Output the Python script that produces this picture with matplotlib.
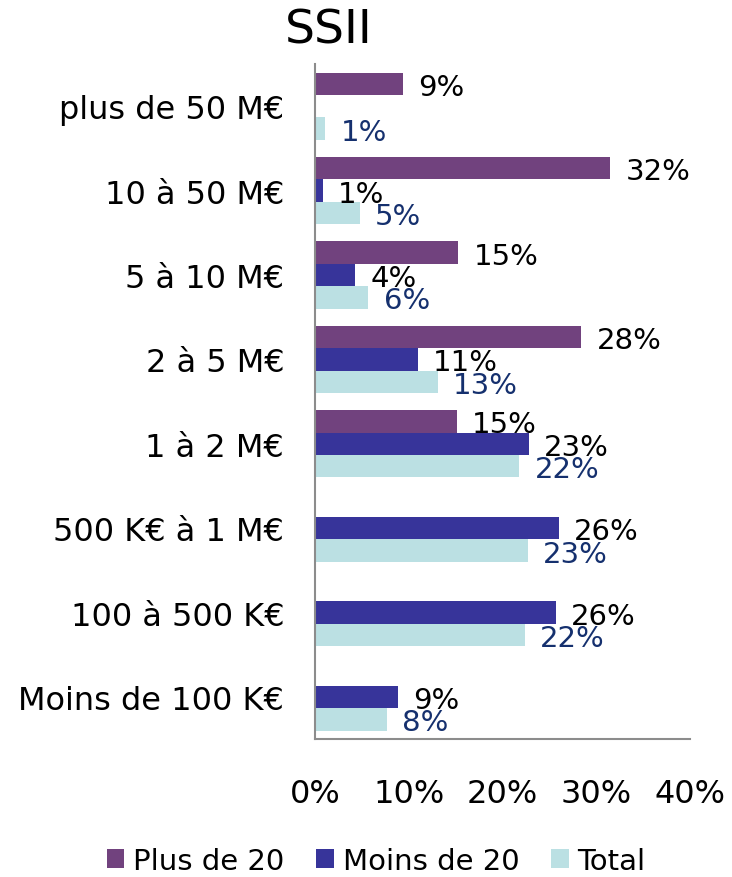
import numpy as np
import matplotlib
matplotlib.use("Agg")
import matplotlib.pyplot as plt

# categories listed bottom to top
categories = ["Moins de 100 K€", "100 à 500 K€", "500 K€ à 1 M€", "1 à 2 M€",
              "2 à 5 M€", "5 à 10 M€", "10 à 50 M€", "plus de 50 M€"]
plus_de_20 = [np.nan, np.nan, np.nan, 15.1, 28.4, 15.3, 31.5, 9.4]
moins_de_20 = [8.9, 25.7, 26.0, 22.8, 11.0, 4.3, 0.85, np.nan]
total = [7.7, 22.4, 22.7, 21.8, 13.1, 5.7, 4.8, 1.1]
plus_labels = ["", "", "", "15%", "28%", "15%", "32%", "9%"]
moins_labels = ["9%", "26%", "26%", "23%", "11%", "4%", "1%", ""]
total_labels = ["8%", "22%", "23%", "22%", "13%", "6%", "5%", "1%"]
xticks = [0, 10, 20, 30, 40]

plt.rcParams["font.family"] = ["DejaVu Sans"]

fig = plt.figure(figsize=(7.32, 8.78), dpi=100)
ax = fig.add_axes([0.430, 0.157, 0.513, 0.769])

y = np.arange(len(categories))
h = 0.265
series = [
    (plus_de_20, plus_labels, y + h, "#71427E", "black", "Plus de 20"),
    (moins_de_20, moins_labels, y, "#37349A", "black", "Moins de 20"),
    (total, total_labels, y - h, "#BBE0E3", "#15306E", "Total"),
]
for vals, labs, pos, col, tcol, name in series:
    v = np.array(vals, dtype=float)
    ax.barh(pos, np.nan_to_num(v), height=h, color=col, label=name)
    # data labels just right of each bar
    for val, lab, p in zip(v, labs, pos):
        if np.isnan(val) or not lab:
            continue
        ax.annotate(lab, (val, p), xytext=(11, 0),
                    textcoords="offset points", ha="left", va="center_baseline",
                    fontsize=21, color=tcol)

ax.set_xlim(0, 40)
ax.set_ylim(-0.5, len(categories) - 0.5)
ax.set_xticks(xticks)
ax.set_xticklabels([f"{t}%" for t in xticks], fontsize=23)
ax.set_yticks(y)
ax.set_yticklabels(categories, fontsize=23)
ax.tick_params(axis="x", length=0, pad=28)
ax.tick_params(axis="y", length=0, pad=22)
for s in ["top", "right"]:
    ax.spines[s].set_visible(False)
for s in ["left", "bottom"]:
    ax.spines[s].set_color("#8C8C8C")
    ax.spines[s].set_linewidth(1.5)

fig.text(329 / 732, 1 - 31 / 878, "SSII", fontsize=34, ha="center", va="center")

fig.legend(loc="center", bbox_to_anchor=(0.514, 1 - 862 / 878), ncol=3,
           frameon=False, fontsize=21, handlelength=0.6, handleheight=0.6,
           handletextpad=0.3, columnspacing=1.1)

fig.savefig("out.png", dpi=100)
